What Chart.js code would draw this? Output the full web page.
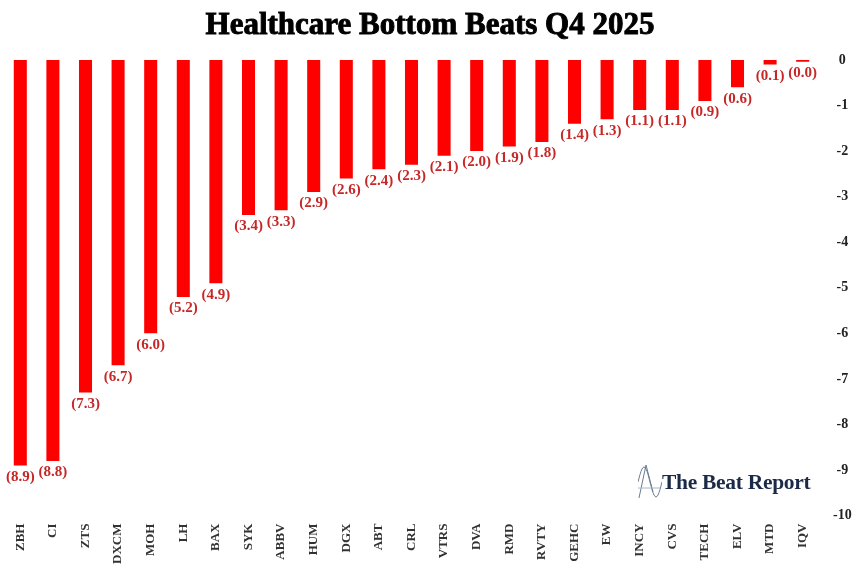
<!DOCTYPE html>
<html>
<head>
<meta charset="utf-8">
<script src="https://cdn.jsdelivr.net/npm/chart.js@4.4.1/dist/chart.umd.min.js"></script>
<style>
  html, body { margin: 0; padding: 0; background: #fff; }
  #wrap { position: relative; width: 860px; height: 570px; }
  #title { position: absolute; left: 0; top: 6px; width: 860px; text-align: center;
           font-family: "Liberation Serif", serif; font-weight: bold; font-size: 31px; line-height: 36px;
           color: #000; -webkit-text-stroke: 0.9px #000; }
  #logo { position: absolute; left: 638px; top: 462px; height: 40px; display: flex; align-items: center;
          font-family: "Liberation Serif", serif; font-weight: bold; font-size: 21.5px; color: #1b2b47; letter-spacing: -0.3px; }
  #logo canvas { margin-right: 0px; }
</style>
</head>
<body>
<div id="wrap">
  <canvas id="c" width="860" height="570"></canvas>
  <div id="title">Healthcare Bottom Beats Q4 2025</div>
  <div id="logo"><canvas id="icon" width="24" height="40"></canvas><span>The Beat Report</span></div>
</div>
<script>
const tickers = ["ZBH","CI","ZTS","DXCM","MOH","LH","BAX","SYK","ABBV","HUM","DGX","ABT","CRL","VTRS","DVA","RMD","RVTY","GEHC","EW","INCY","CVS","TECH","ELV","MTD","IQV"];
const surprise = [-8.9,-8.8,-7.3,-6.7,-6.0,-5.2,-4.9,-3.4,-3.3,-2.9,-2.6,-2.4,-2.3,-2.1,-2.0,-1.9,-1.8,-1.4,-1.3,-1.1,-1.1,-0.9,-0.6,-0.1,-0.04];
const yMin = -10, yMax = 0, yStep = 1;

const valueLabels = {
  id: 'valueLabels',
  afterDatasetsDraw(chart) {
    const ctx = chart.ctx;
    const meta = chart.getDatasetMeta(0);
    ctx.save();
    ctx.font = 'bold 15px "Liberation Serif", serif';
    ctx.fillStyle = '#c62828';
    ctx.textAlign = 'center';
    ctx.textBaseline = 'top';
    meta.data.forEach((bar, i) => {
      const v = chart.data.datasets[0].data[i];
      ctx.fillText('(' + Math.abs(v).toFixed(1) + ')', bar.x, bar.y + 4);
    });
    ctx.restore();
  }
};

new Chart(document.getElementById('c'), {
  type: 'bar',
  data: {
    labels: tickers,
    datasets: [{ data: surprise, backgroundColor: '#ff0000', borderWidth: 0, categoryPercentage: 1.0, barPercentage: 0.4 }]
  },
  options: {
    responsive: false,
    animation: false,
    layout: { padding: { left: 4, right: 7, bottom: 6, top: 60 } },
    plugins: {
      legend: { display: false },
      tooltip: { enabled: false },
      title: { display: false }
    },
    scales: {
      x: {
        grid: { display: false }, border: { display: false },
        ticks: { minRotation: 90, maxRotation: 90, autoSkip: false, padding: 0,
          color: '#333', font: { family: '"Liberation Serif", serif', size: 13, weight: 'bold' } }
      },
      y: {
        position: 'right', min: yMin, max: yMax,
        grid: { display: false }, border: { display: false },
        afterFit: s => { s.width = 34; },
        ticks: { stepSize: yStep, padding: 6, crossAlign: 'center', color: '#222',
          font: { family: '"Liberation Serif", serif', size: 14, weight: 'bold' },
          callback: v => String(v) }
      }
    }
  },
  plugins: [valueLabels]
});

// logo icon
(function(){
  const ic = document.getElementById('icon').getContext('2d');
  ic.strokeStyle = '#6b7c93'; ic.lineWidth = 1;
  ic.beginPath();
  ic.moveTo(1, 36); ic.lineTo(8, 3); ic.lineTo(15, 30);
  ic.stroke();
  ic.beginPath();
  for (let x = 0; x <= 24; x++) {
    const y = 20 - 15 * Math.sin((x / 24) * 2 * Math.PI);
    if (x === 0) ic.moveTo(x, y); else ic.lineTo(x, y);
  }
  ic.stroke();
  ic.strokeStyle = '#a9b6c6';
  ic.beginPath(); ic.moveTo(0, 26); ic.lineTo(22, 26); ic.stroke();
})();
</script>
</body>
</html>
